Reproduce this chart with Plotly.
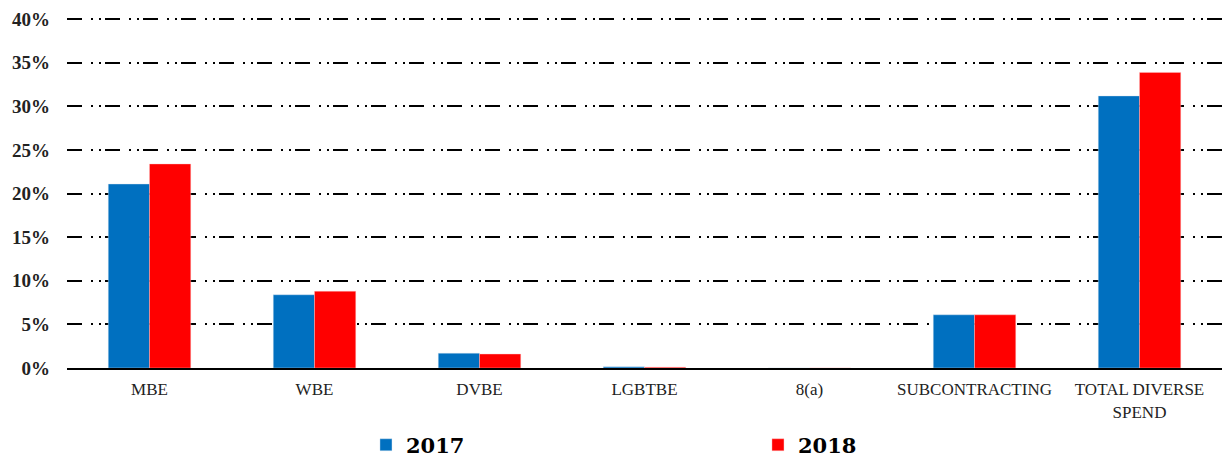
import plotly.graph_objects as go

categories = ["MBE", "WBE", "DVBE", "LGBTBE", "8(a)", "SUBCONTRACTING", "TOTAL DIVERSE<br>SPEND"]
vals_2017 = [0.211, 0.084, 0.017, 0.0015, 0.0, 0.061, 0.312]
vals_2018 = [0.234, 0.088, 0.016, 0.001, 0.0, 0.061, 0.339]
tick_vals = [0, 0.05, 0.10, 0.15, 0.20, 0.25, 0.30, 0.35, 0.40]

fig = go.Figure()
fig.add_trace(go.Bar(name="2017", x=categories, y=vals_2017, marker=dict(color="#0070C0", line=dict(color="rgba(220,230,240,0.8)", width=0.5))))
fig.add_trace(go.Bar(name="2018", x=categories, y=vals_2018, marker=dict(color="#FF0000", line=dict(color="rgba(255,200,200,0.8)", width=0.5))))

fig.update_layout(
    width=1224, height=457,
    margin=dict(l=67, r=2, t=17, b=89, autoexpand=False),
    paper_bgcolor="white", plot_bgcolor="white",
    barmode="group", bargap=0.5, bargroupgap=0,
    showlegend=True,
    legend=dict(orientation="h", xref="container", yref="container",
                x=0.299, xanchor="left", y=0.026, yanchor="middle",
                font=dict(family="DejaVu Serif", size=21, color="black", weight="bold"),
                entrywidth=347, entrywidthmode="pixels", traceorder="normal"),
    font=dict(family="Liberation Serif", color="black"),
)
fig.update_xaxes(showline=True, linecolor="black", linewidth=2, ticks="",
                 automargin=False, ticklabelstandoff=5,
                 tickfont=dict(family="Liberation Serif", size=17, color="#222"),
                 showgrid=False)
fig.update_yaxes(range=[0, 0.4025], tickvals=tick_vals, tickformat=".0%",
                 showgrid=True, gridcolor="black", gridwidth=2,
                 griddash="15px,9px,2px,6px,2px,4px",
                 zeroline=False, showline=False, ticks="",
                 automargin=False, ticklabelstandoff=16,
                 tickfont=dict(family="Liberation Serif", size=19, color="#222", weight="bold"))

fig.write_html("out.html", config={"displayModeBar": False},
               post_script="document.body.style.margin='0';")
